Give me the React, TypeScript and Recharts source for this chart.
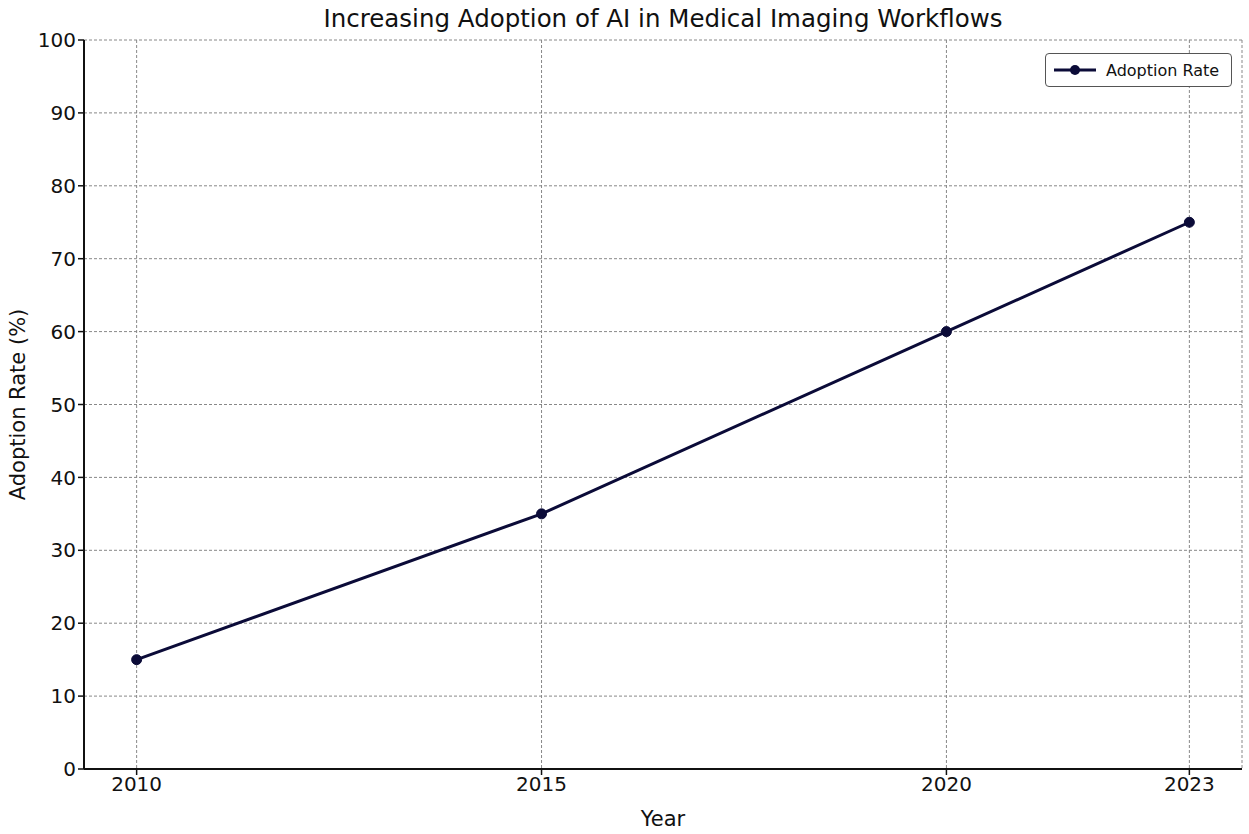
import React from "react";
import {
  LineChart,
  Line,
  XAxis,
  YAxis,
  CartesianGrid,
} from "recharts";

const years = [2010, 2015, 2020, 2023];
const adoptionRate = [15, 35, 60, 75];
const xTicks = [2010, 2015, 2020, 2023];
const yTicks = [0, 10, 20, 30, 40, 50, 60, 70, 80, 90, 100];

const data = years.map((year, i) => ({ year, rate: adoptionRate[i] }));

const FONT = "'DejaVu Sans', sans-serif";
const LINE_COLOR = "#0b0b38";

function LegendBox() {
  return (
    <div
      style={{
        position: "absolute",
        left: 1045,
        top: 53,
        width: 187,
        height: 34,
        boxSizing: "border-box",
        display: "flex",
        alignItems: "center",
        gap: 10,
        border: "1.5px solid #555",
        borderRadius: 4,
        background: "#fff",
        padding: "0 8px",
        fontFamily: FONT,
        fontSize: 16,
        color: "#111",
      }}
    >
      <svg width={42} height={12}>
        <line x1={0} y1={6} x2={42} y2={6} stroke={LINE_COLOR} strokeWidth={3} />
        <circle cx={21} cy={6} r={5} fill={LINE_COLOR} />
      </svg>
      <span>Adoption Rate</span>
    </div>
  );
}

export default function App() {
  return (
    <div
      style={{
        position: "absolute",
        left: 0,
        top: 0,
        width: 1249,
        height: 834,
        background: "#fff",
        fontFamily: FONT,
      }}
    >
      <div
        style={{
          position: "absolute",
          top: 4,
          left: 0,
          width: 1326,
          textAlign: "center",
          fontSize: 24.5,
          color: "#111",
        }}
      >
        Increasing Adoption of AI in Medical Imaging Workflows
      </div>
      <LineChart
        width={1249}
        height={834}
        data={data}
        margin={{ top: 40, right: 7, bottom: 0, left: 24 }}
      >
        <CartesianGrid stroke="#888" strokeDasharray="3 2" strokeWidth={1} />
        <XAxis
          dataKey="year"
          type="number"
          domain={[2009.35, 2023.65]}
          ticks={xTicks}
          height={65}
          axisLine={{ stroke: "#111", strokeWidth: 2 }}
          tickLine={{ stroke: "#111", strokeWidth: 1.5 }}
          tickSize={6}
          tick={{ fill: "#111", fontSize: 20, fontFamily: FONT }}
          label={{
            value: "Year",
            position: "insideBottom",
            offset: 8,
            fill: "#111",
            fontSize: 21,
            fontFamily: FONT,
          }}
        />
        <YAxis
          type="number"
          domain={[0, 100]}
          ticks={yTicks}
          width={60}
          axisLine={{ stroke: "#111", strokeWidth: 2 }}
          tickLine={{ stroke: "#111", strokeWidth: 1.5 }}
          tickSize={6}
          tick={{ fill: "#111", fontSize: 20, fontFamily: FONT }}
          label={{
            value: "Adoption Rate (%)",
            angle: -90,
            position: "insideLeft",
            offset: -6,
            style: { textAnchor: "middle" },
            fill: "#111",
            fontSize: 21,
            fontFamily: FONT,
          }}
        />
        <Line
          type="linear"
          dataKey="rate"
          name="Adoption Rate"
          stroke={LINE_COLOR}
          strokeWidth={3}
          dot={{ r: 5, fill: LINE_COLOR, stroke: LINE_COLOR, strokeWidth: 1 }}
          isAnimationActive={false}
        />
      </LineChart>
      <LegendBox />
    </div>
  );
}
